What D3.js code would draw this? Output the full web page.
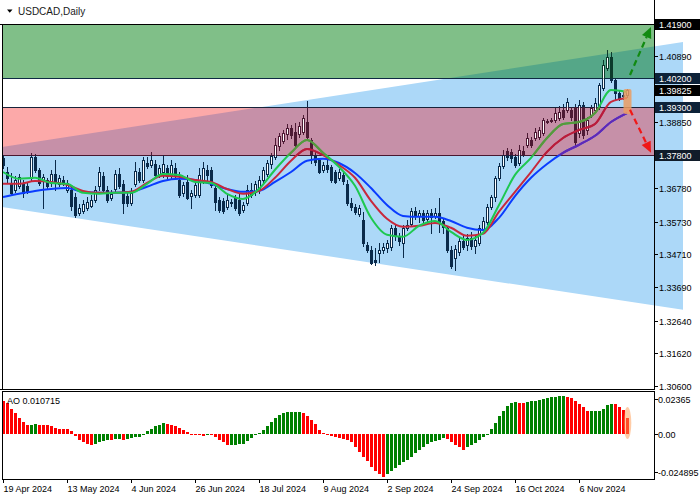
<!DOCTYPE html>
<html><head><meta charset="utf-8">
<script src="https://cdn.jsdelivr.net/npm/d3@7"></script>
<style>
html,body{margin:0;padding:0;background:#fff;}
svg{display:block;font-family:"Liberation Sans",Arial,sans-serif;}
</style></head><body>
<svg id="chart" width="700" height="500"></svg>
<script>
// ---------------- DATA ----------------
const symbolTitle = "USDCAD,Daily";
const dateTickIdx = [0,16,32,48,64,80,96,112,128,144];
const dateTickLabels = ["19 Apr 2024","13 May 2024","4 Jun 2024","26 Jun 2024","18 Jul 2024","9 Aug 2024","2 Sep 2024","24 Sep 2024","16 Oct 2024","6 Nov 2024"];

const opens = [1.3772,1.3728,1.3694,1.3672,1.3685,1.3694,1.3685,1.3710,1.3775,1.3735,
1.3703,1.3703,1.3694,1.3722,1.3691,1.3703,1.3672,1.3672,1.3650,1.3601,
1.3607,1.3616,1.3622,1.3641,1.3685,1.3716,1.3672,1.3647,1.3675,1.3722,
1.3691,1.3653,1.3632,1.3691,1.3728,1.3703,1.3756,1.3750,1.3753,1.3722,
1.3728,1.3741,1.3716,1.3741,1.3703,1.3663,1.3697,1.3653,1.3657,1.3657,
1.3703,1.3735,1.3735,1.3678,1.3641,1.3638,1.3619,1.3635,1.3647,1.3641,
1.3610,1.3632,1.3672,1.3666,1.3672,1.3703,1.3722,1.3753,1.3775,1.3810,
1.3825,1.3847,1.3866,1.3853,1.3847,1.3853,1.3884,1.3828,1.3781,1.3766,
1.3735,1.3750,1.3744,1.3728,1.3710,1.3719,1.3691,1.3632,1.3619,1.3597,
1.3579,1.3501,1.3485,1.3454,1.3476,1.3485,1.3491,1.3494,1.3554,1.3529,
1.3507,1.3554,1.3566,1.3607,1.3591,1.3601,1.3582,1.3601,1.3591,1.3601,
1.3575,1.3554,1.3485,1.3460,1.3479,1.3513,1.3501,1.3522,1.3497,1.3507,
1.3550,1.3572,1.3619,1.3650,1.3710,1.3747,1.3794,1.3791,1.3775,1.3756,
1.3794,1.3813,1.3828,1.3834,1.3838,1.3850,1.3888,1.3891,1.3891,1.3897,
1.3922,1.3922,1.3922,1.3931,1.3850,1.3937,1.3859,1.3906,1.3922,1.3931,
1.3990,1.4053,1.4087,1.4015,1.3975,1.3965,1.3969];
const highs = [1.3781,1.3744,1.3725,1.3716,1.3722,1.3703,1.3694,1.3788,1.3785,1.3741,
1.3722,1.3710,1.3735,1.3766,1.3719,1.3716,1.3703,1.3685,1.3663,1.3629,
1.3641,1.3650,1.3657,1.3685,1.3744,1.3728,1.3685,1.3672,1.3735,1.3741,
1.3703,1.3666,1.3678,1.3760,1.3741,1.3775,1.3775,1.3791,1.3766,1.3750,
1.3781,1.3750,1.3766,1.3756,1.3728,1.3697,1.3719,1.3672,1.3694,1.3741,
1.3760,1.3750,1.3744,1.3685,1.3650,1.3647,1.3657,1.3644,1.3657,1.3660,
1.3635,1.3688,1.3694,1.3700,1.3716,1.3744,1.3766,1.3788,1.3834,1.3850,
1.3859,1.3878,1.3875,1.3881,1.3884,1.3906,1.3950,1.3834,1.3791,1.3772,
1.3760,1.3766,1.3750,1.3735,1.3738,1.3728,1.3703,1.3647,1.3629,1.3625,
1.3604,1.3510,1.3497,1.3491,1.3507,1.3507,1.3516,1.3563,1.3563,1.3538,
1.3563,1.3579,1.3616,1.3619,1.3610,1.3610,1.3610,1.3613,1.3616,1.3647,
1.3585,1.3560,1.3497,1.3501,1.3522,1.3529,1.3535,1.3541,1.3529,1.3563,
1.3588,1.3629,1.3657,1.3716,1.3756,1.3797,1.3803,1.3800,1.3785,1.3813,
1.3810,1.3850,1.3838,1.3866,1.3869,1.3897,1.3894,1.3897,1.3928,1.3934,
1.3941,1.3959,1.3931,1.3941,1.3953,1.3947,1.3900,1.3937,1.3959,1.4006,
1.4078,1.4109,1.4103,1.4022,1.3984,1.3978,1.3987];
const lows = [1.3741,1.3694,1.3657,1.3666,1.3678,1.3650,1.3663,1.3703,1.3728,1.3688,
1.3616,1.3678,1.3685,1.3672,1.3685,1.3688,1.3666,1.3610,1.3588,1.3594,
1.3601,1.3610,1.3619,1.3635,1.3672,1.3666,1.3635,1.3641,1.3666,1.3678,
1.3601,1.3622,1.3625,1.3685,1.3697,1.3697,1.3741,1.3744,1.3713,1.3713,
1.3713,1.3710,1.3710,1.3710,1.3650,1.3653,1.3644,1.3616,1.3650,1.3650,
1.3694,1.3697,1.3682,1.3610,1.3604,1.3601,1.3613,1.3622,1.3610,1.3594,
1.3604,1.3625,1.3650,1.3657,1.3663,1.3697,1.3716,1.3741,1.3769,1.3797,
1.3819,1.3831,1.3834,1.3806,1.3838,1.3847,1.3828,1.3756,1.3750,1.3725,
1.3728,1.3728,1.3697,1.3694,1.3703,1.3691,1.3625,1.3610,1.3597,1.3591,
1.3497,1.3479,1.3441,1.3438,1.3448,1.3476,1.3479,1.3485,1.3516,1.3501,
1.3463,1.3547,1.3560,1.3582,1.3572,1.3566,1.3572,1.3538,1.3585,1.3541,
1.3538,1.3479,1.3429,1.3423,1.3469,1.3488,1.3485,1.3488,1.3476,1.3501,
1.3541,1.3566,1.3613,1.3638,1.3703,1.3741,1.3766,1.3760,1.3744,1.3750,
1.3778,1.3806,1.3806,1.3828,1.3831,1.3844,1.3881,1.3884,1.3884,1.3891,
1.3894,1.3916,1.3891,1.3813,1.3838,1.3834,1.3847,1.3900,1.3916,1.3925,
1.3984,1.4047,1.4009,1.3953,1.3953,1.3956,1.3962];
const closes = [1.3750,1.3710,1.3663,1.3703,1.3713,1.3663,1.3669,1.3775,1.3735,1.3694,
1.3713,1.3685,1.3722,1.3694,1.3710,1.3697,1.3694,1.3622,1.3594,1.3616,
1.3629,1.3635,1.3641,1.3672,1.3728,1.3672,1.3641,1.3660,1.3722,1.3685,
1.3632,1.3632,1.3663,1.3731,1.3703,1.3766,1.3747,1.3766,1.3719,1.3741,
1.3753,1.3716,1.3750,1.3719,1.3657,1.3688,1.3647,1.3663,1.3688,1.3719,
1.3741,1.3719,1.3688,1.3635,1.3610,1.3607,1.3641,1.3632,1.3616,1.3601,
1.3625,1.3672,1.3657,1.3691,1.3703,1.3735,1.3756,1.3778,1.3813,1.3841,
1.3850,1.3866,1.3844,1.3813,1.3872,1.3897,1.3838,1.3781,1.3760,1.3728,
1.3750,1.3738,1.3703,1.3697,1.3728,1.3700,1.3632,1.3619,1.3604,1.3616,
1.3507,1.3485,1.3444,1.3448,1.3485,1.3494,1.3507,1.3554,1.3529,1.3513,
1.3554,1.3563,1.3607,1.3591,1.3601,1.3579,1.3601,1.3588,1.3601,1.3572,
1.3557,1.3485,1.3435,1.3488,1.3513,1.3494,1.3522,1.3497,1.3516,1.3554,
1.3575,1.3619,1.3650,1.3710,1.3747,1.3781,1.3775,1.3772,1.3750,1.3797,
1.3785,1.3834,1.3813,1.3853,1.3859,1.3891,1.3884,1.3888,1.3912,1.3916,
1.3900,1.3947,1.3900,1.3822,1.3937,1.3844,1.3891,1.3928,1.3944,1.4000,
1.4062,1.4087,1.4015,1.3975,1.3959,1.3969,1.3983];

// moving-average lines (every 4th bar)
const maIdx = [0,4,8,12,16,20,24,28,32,36,40,44,48,52,56,60,64,68,72,76,80,84,88,92,96,100,104,108,112,116,120,124,128,132,136,140,144,148,152,156];
const maFast = [1.3728,1.3707,1.3710,1.3694,1.3691,1.3663,1.3660,1.3663,1.3663,1.3691,1.3722,1.3719,1.3697,1.3694,1.3660,1.3644,1.3675,1.3735,1.3788,1.3828,1.3788,1.3744,1.3685,1.3585,1.3532,1.3526,1.3560,1.3575,1.3541,1.3516,1.3538,1.3625,1.3719,1.3772,1.3834,1.3878,1.3884,1.3912,1.3984,1.3978];
const maMid = [1.3691,1.3691,1.3700,1.3697,1.3688,1.3669,1.3663,1.3663,1.3666,1.3694,1.3716,1.3713,1.3703,1.3697,1.3675,1.3660,1.3669,1.3710,1.3763,1.3800,1.3781,1.3750,1.3710,1.3638,1.3582,1.3557,1.3560,1.3569,1.3554,1.3529,1.3535,1.3604,1.3666,1.3728,1.3791,1.3834,1.3859,1.3878,1.3947,1.3959];
const maSlow = [1.3650,1.3660,1.3669,1.3675,1.3678,1.3666,1.3663,1.3663,1.3666,1.3682,1.3700,1.3707,1.3703,1.3691,1.3675,1.3666,1.3669,1.3697,1.3728,1.3763,1.3769,1.3756,1.3725,1.3678,1.3625,1.3591,1.3588,1.3588,1.3575,1.3554,1.3547,1.3585,1.3653,1.3710,1.3753,1.3788,1.3813,1.3841,1.3884,1.3912];

// Awesome Oscillator values (x 0.001)
const aoMilli = [22.5,20.7,16.9,14.0,11.0,8.3,6.5,6.6,6.7,6.6,
6.6,6.5,5.4,4.3,3.9,3.8,3.7,2.0,-1.1,-3.6,
-5.2,-6.3,-7.0,-6.6,-5.2,-4.1,-3.6,-3.8,-3.3,-3.1,
-3.6,-2.9,-2.3,-1.8,-1.4,0.4,2.3,3.8,5.6,6.5,
7.4,6.8,6.1,5.6,4.5,3.2,1.6,-0.3,-0.5,-0.7,
-0.8,0.4,-0.4,-1.8,-3.6,-5.2,-7.0,-6.9,-6.8,-6.7,
-6.3,-4.5,-2.3,-0.7,0.9,3.2,5.4,8.3,11.0,12.8,
14.4,14.9,15.0,15.1,15.3,14.4,12.2,9.9,6.8,2.7,
0.9,-0.5,-1.1,-1.8,-2.3,-2.9,-3.6,-5.2,-8.6,-11.9,
-14.9,-18.0,-21.6,-24.3,-26.6,-28.2,-26.1,-24.3,-22.1,-20.3,
-18.7,-17.1,-15.3,-12.6,-10.1,-8.1,-6.3,-5.2,-4.5,-3.6,
-2.5,-3.2,-5.2,-7.0,-8.6,-10.1,-8.6,-7.0,-5.4,-3.6,
-1.8,-0.4,3.4,7.7,12.2,15.5,18.9,20.7,21.4,21.3,
21.1,21.5,22.0,22.5,23.0,23.5,24.1,24.7,25.3,25.7,
25.9,25.3,24.2,22.6,20.6,18.2,15.4,15.5,15.6,15.7,
17.0,19.5,20.3,20.1,18.2,16.5,10.7];
const aoLabel = "AO 0.010715";

// price axis
const priceTicks = [1.40890,1.38850,1.36780,1.35730,1.34710,1.33690,1.32640,1.31620,1.30600];
const priceMarks = [1.41900,1.40200,1.39825,1.39300,1.37800];
const priceMarkBg = ["#000000","#0d2238","#000000","#0d2238","#101c2a"];
const aoTicks = [0.02365,0.0,-0.024895];
const aoTickLabels = ["0.02365","0.00","-0.024895"];

// zones, channel and forecast arrows (data coordinates)
const greenZone = [1.40200,1.41900];
const pinkZone = [1.37800,1.39300];
const channelIdx = [-0.25,170];
const channelUpper = [1.3806,1.4134];
const channelLower = [1.3619,1.3298];
const arrowUp = {i0:156.75,p0:1.4031,i1:162,p1:1.4181};
const arrowDown = {i0:156.75,p0:1.3922,i1:162,p1:1.3788};
const highlightBar = {i:156,top:1.3984,bottom:1.3912};

// ---------------- DRAW ----------------
const N = closes.length;
const svg = d3.select("#chart");
const plotL = 2, plotR = 654, mainTop = 24, mainBot = 389, aoTop = 391, aoBot = 479;
const x = d3.scaleLinear().domain([0,144]).range([3,579]);
const y = d3.scaleLinear().domain([1.30600,1.41900]).range([386,24]);
const yAO = d3.scaleLinear().domain([-0.024895,0.02365]).range([471.7,399]);

const defs = svg.append("defs");
defs.append("clipPath").attr("id","clipPlot").append("rect")
  .attr("x",plotL).attr("y",mainTop).attr("width",plotR-plotL).attr("height",mainBot-mainTop);
defs.append("clipPath").attr("id","clipPink").append("rect")
  .attr("x",plotL).attr("y",y(pinkZone[1])).attr("width",plotR-plotL).attr("height",y(pinkZone[0])-y(pinkZone[1]));
defs.append("clipPath").attr("id","clipGreen").append("rect")
  .attr("x",plotL).attr("y",y(greenZone[1])).attr("width",plotR-plotL).attr("height",y(greenZone[0])-y(greenZone[1]));
const chanPts = [[x(channelIdx[0]),y(channelUpper[0])],[x(channelIdx[1]),y(channelUpper[1])],
                 [x(channelIdx[1]),y(channelLower[1])],[x(channelIdx[0]),y(channelLower[0])]];
defs.append("clipPath").attr("id","clipChan").append("polygon").attr("points",chanPts.map(p=>p.join(",")).join(" "));

svg.append("rect").attr("width",700).attr("height",500).attr("fill","#fff");

// channel
svg.append("polygon").attr("points",chanPts.map(p=>p.join(",")).join(" ")).attr("fill","#acd8f8");

// zones
function zone(z, col, colOverlap){
  const r = {x:plotL, y:y(z[1]), w:plotR-plotL, h:y(z[0])-y(z[1])};
  svg.append("rect").attr("x",r.x).attr("y",r.y).attr("width",r.w).attr("height",r.h).attr("fill",col);
  svg.append("rect").attr("x",r.x).attr("y",r.y).attr("width",r.w).attr("height",r.h).attr("fill",colOverlap)
     .attr("clip-path","url(#clipChan)");
}
zone(greenZone,"#80bf88","#55a788");
zone(pinkZone,"#fca9a9","#c690a8");

// zone border lines
[[greenZone[1],"#000000",0],[greenZone[0],"#0e2a44",plotL],[pinkZone[1],"#18233a",plotL],[pinkZone[0],"#4a1830",plotL]].forEach(([v,c,x0])=>{
  const yy = Math.round(y(v))+0.5;
  svg.append("line").attr("x1",x0).attr("x2",plotR).attr("y1",yy).attr("y2",yy).attr("stroke",c).attr("stroke-width",1);
});

// candles
function drawCandles(clip, dark){
  const g = svg.append("g").attr("clip-path",`url(#${clip})`);
  for(let i=0;i<N;i++){
    const cx = Math.round(x(i));
    const yh = Math.round(y(highs[i])), yl = Math.round(y(lows[i]));
    g.append("rect").attr("x",cx).attr("y",yh).attr("width",1).attr("height",Math.max(1,yl-yh+1)).attr("fill",dark);
    const top = Math.round(y(Math.max(opens[i],closes[i])));
    const bot = Math.round(y(Math.min(opens[i],closes[i])));
    const h = Math.max(1,bot-top);
    g.append("rect").attr("x",cx-1).attr("y",top).attr("width",3).attr("height",h+1).attr("fill",dark);
    if(closes[i]>opens[i] && h>=2){
      g.append("rect").attr("x",cx).attr("y",top+1).attr("width",1).attr("height",h-1).attr("fill","#ffffff");
    }
  }
}
drawCandles("clipPlot","#0a2a4a");
drawCandles("clipPink","#4e1a34");
drawCandles("clipGreen","#0c3a2c");

// MA lines
const lineGen = (vals)=>d3.line().x((d,k)=>x(maIdx[k])).y(d=>y(d)).curve(d3.curveMonotoneX)(vals);
function drawLines(clip, cols){
  const g = svg.append("g").attr("clip-path",`url(#${clip})`);
  [[maSlow,cols[0]],[maMid,cols[1]],[maFast,cols[2]]].forEach(([v,c])=>{
    g.append("path").attr("d",lineGen(v)).attr("fill","none").attr("stroke",c).attr("stroke-width",2);
  });
}
drawLines("clipPlot",["#0a3cff","#c8283c","#1ec850"]);
drawLines("clipPink",["#6428b4","#b81c3c","#5a963c"]);

// highlight of last bar
{
  const cx = x(highlightBar.i);
  svg.append("rect").attr("x",cx-3.5).attr("y",y(highlightBar.top)-1).attr("width",8)
    .attr("height",y(highlightBar.bottom)-y(highlightBar.top)+2).attr("rx",2)
    .attr("fill","#eb9c62").attr("opacity",0.85);
}

// arrows
function arrow(a, col){
  const x0=x(a.i0), y0=y(a.p0), x1=x(a.i1), y1=y(a.p1);
  const ang = Math.atan2(y1-y0,x1-x0), L=11, Wd=5;
  const bx = x1 - L*Math.cos(ang), by = y1 - L*Math.sin(ang);
  svg.append("line").attr("x1",x0).attr("y1",y0).attr("x2",bx).attr("y2",by)
    .attr("stroke",col).attr("stroke-width",2.2).attr("stroke-dasharray","6,4");
  const px = -Math.sin(ang)*Wd, py = Math.cos(ang)*Wd;
  svg.append("polygon").attr("points",`${x1},${y1} ${bx+px},${by+py} ${bx-px},${by-py}`).attr("fill",col);
}
arrow(arrowUp,"#118a11");
arrow(arrowDown,"#f01818");

// AO bars
const aoG = svg.append("g");
const ao = aoMilli.map(v=>v/1000);
for(let i=0;i<N;i++){
  const cx = Math.round(x(i));
  const v = ao[i];
  const up = i>0 && v>ao[i-1];
  const y0 = Math.round(yAO(0)), y1 = Math.round(yAO(v));
  aoG.append("rect").attr("x",cx-1).attr("y",Math.min(y0,y1)).attr("width",3)
    .attr("height",Math.max(1,Math.abs(y1-y0))).attr("fill",up?"#008000":"#ff0000");
}
svg.append("ellipse").attr("cx",x(N-1)+0.5).attr("cy",423).attr("rx",3.8).attr("ry",16)
  .attr("fill","#ff9a50").attr("opacity",0.5);

// frames
const fr = svg.append("g").attr("stroke","#000").attr("stroke-width",1).attr("shape-rendering","crispEdges");
fr.append("line").attr("x1",plotL+0.5).attr("x2",plotL+0.5).attr("y1",mainTop).attr("y2",mainBot);
fr.append("line").attr("x1",plotR+0.5).attr("x2",plotR+0.5).attr("y1",0).attr("y2",mainBot+1);
fr.append("line").attr("x1",0).attr("x2",plotR+1).attr("y1",mainBot+0.5).attr("y2",mainBot+0.5);
fr.append("line").attr("x1",plotL).attr("x2",plotR+1).attr("y1",aoTop+0.5).attr("y2",aoTop+0.5);
fr.append("line").attr("x1",plotL+0.5).attr("x2",plotL+0.5).attr("y1",aoTop).attr("y2",aoBot);
fr.append("line").attr("x1",plotR+0.5).attr("x2",plotR+0.5).attr("y1",aoTop).attr("y2",aoBot+1);
fr.append("line").attr("x1",plotL).attr("x2",plotR+1).attr("y1",aoBot+0.5).attr("y2",aoBot+0.5);

// price axis ticks
const fmt5 = d3.format(".5f");
priceTicks.forEach(v=>{
  const yy = Math.round(y(v))+0.5;
  svg.append("line").attr("x1",plotR).attr("x2",plotR+4).attr("y1",yy).attr("y2",yy).attr("stroke","#000");
  svg.append("text").attr("x",659).attr("y",yy).attr("dy","0.35em").attr("font-size",9).attr("fill","#000").text(fmt5(v));
});
priceMarks.forEach((v,k)=>{
  const yy = Math.round(y(v));
  svg.append("rect").attr("x",plotR+1).attr("y",yy-5).attr("width",700-plotR-1).attr("height",11).attr("fill",priceMarkBg[k]);
  svg.append("text").attr("x",659).attr("y",yy+0.5).attr("dy","0.35em").attr("font-size",9).attr("fill","#fff").text(fmt5(v));
});

// AO axis
aoTicks.forEach((v,k)=>{
  const yy = Math.round(yAO(v))+0.5;
  svg.append("line").attr("x1",plotR).attr("x2",plotR+4).attr("y1",yy).attr("y2",yy).attr("stroke","#000");
  svg.append("text").attr("x",658).attr("y",yy).attr("dy","0.35em").attr("font-size",9).attr("fill","#000").text(aoTickLabels[k]);
});
svg.append("text").attr("x",7).attr("y",403.5).attr("font-size",9).attr("fill","#000").text(aoLabel);

// date axis
dateTickIdx.forEach((idx,k)=>{
  const xx = Math.round(x(idx))+0.5;
  svg.append("line").attr("x1",xx).attr("x2",xx).attr("y1",aoBot).attr("y2",aoBot+4).attr("stroke","#000");
  svg.append("text").attr("x",xx).attr("y",492).attr("font-size",9).attr("fill","#000").text(dateTickLabels[k]);
});

// title
svg.append("polygon").attr("points","7,9.5 12.5,9.5 9.75,12.7").attr("fill","#000");
svg.append("text").attr("x",18).attr("y",14.5).attr("font-size",10).attr("fill","#1a1a1a").text(symbolTitle);
</script>
</body></html>
